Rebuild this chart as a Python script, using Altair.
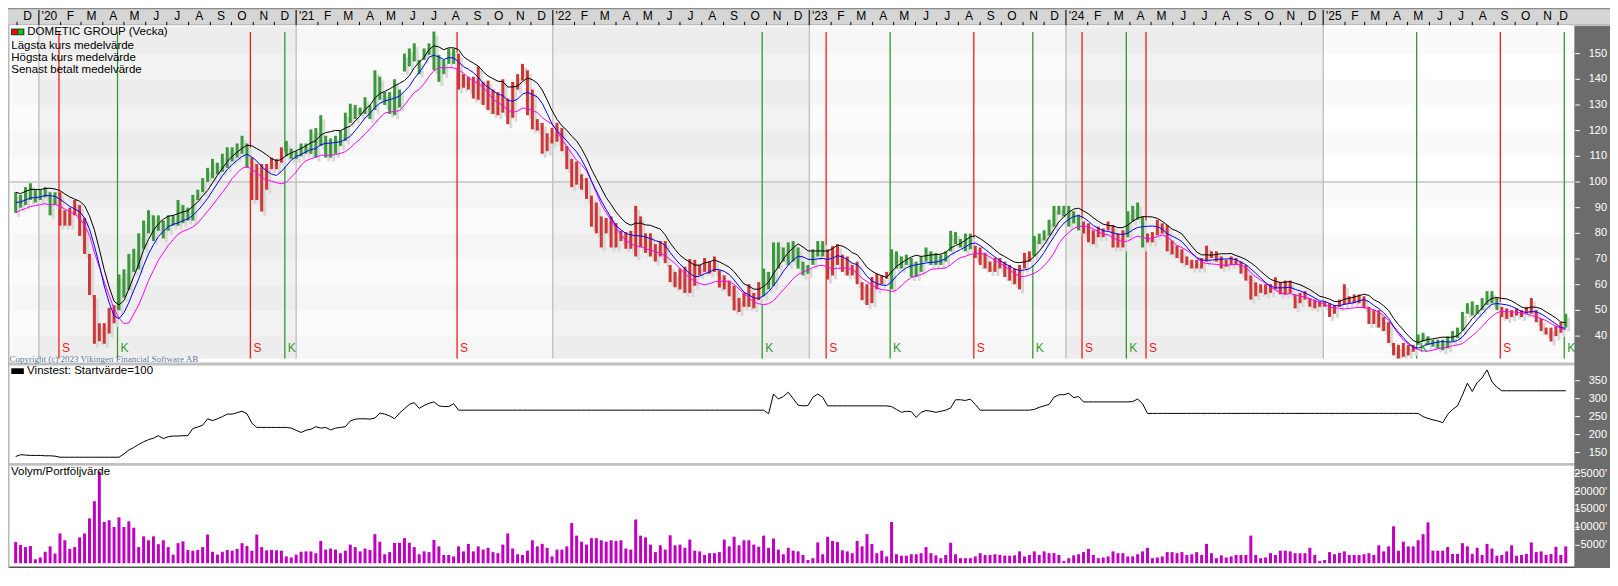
import altair as alt
import pandas as pd

# ---------------- data (weekly bars) ----------------
START = "2019-11-29"  # date of the first weekly bar

high_p1 = [96, 95, 98, 99.5, 97, 97, 98, 96, 96, 96, 89, 90, 93, 91, 86, 72, 56, 45, 45, 51,
           52, 64, 66, 72, 74, 80, 85, 89, 87, 87, 85, 87, 87, 93, 91, 90, 95, 97, 101.5, 105.5,
           109, 107.5, 111, 113.5, 113.5, 115, 118, 115, 109.5, 107, 107, 107, 109.5, 109, 113.5, 116, 113, 112, 115, 115,
           120.5, 121, 126, 118]
low_p1 = [88, 90, 91, 93, 92, 93, 94, 87, 91, 83, 83, 83, 87, 79, 72, 56, 37, 38, 37, 41,
          45, 50, 55, 58, 65, 66, 74, 80, 77, 81, 78, 81, 83, 83, 84, 85, 85, 93, 96, 100,
          101.5, 103, 104, 105.5, 108, 109.5, 111, 105.5, 93, 93, 88.5, 97, 105, 105, 107.5, 110, 109, 109, 110, 111,
          111, 109.5, 114, 109.5]
high_p2 = [117, 118, 120, 127, 130.5, 130, 129, 133, 130, 143.5, 141, 135, 135, 140, 136, 150, 152, 154, 147.5, 152,
           154, 158.6, 149.5, 147.5, 152, 152, 150, 142, 141, 141, 145, 139, 139.5, 136, 135, 140, 132.5, 139, 142, 146,
           143.5, 136, 124.5, 123, 119, 121, 123, 121, 114, 109, 108, 103, 101.5, 94.7, 92, 86.6, 86, 86.6, 84, 81,
           80.5, 81, 90.7]
low_p2 = [109.5, 111, 114, 116, 123, 124.5, 126, 126.5, 124.5, 128, 132, 130, 126.5, 126, 129, 143, 145, 147, 142, 147.5,
          149.5, 143.5, 139, 142, 146, 146, 136, 136.7, 136, 132.5, 132, 130, 128, 126.5, 126, 127, 122.5, 125, 136, 139.5,
          126, 120.5, 120, 111, 112, 115, 115.7, 112, 105, 98, 99, 97, 93.4, 82.6, 80, 74.5, 80, 74.5, 74.5, 77,
          74, 74, 71]
high_p3 = [86.6, 80, 80, 75.8, 77, 77, 67.7, 65, 66.3, 67, 70, 69.7, 67.7, 70.4, 69, 71, 65.6, 63.6, 61.6, 59.6,
           54.8, 56.8, 60.2, 56.8, 61, 66.3, 65, 76.5, 76.5, 74.5, 76.5, 77, 74.5, 69, 67.7, 73.8, 77, 77, 73.8, 75,
           75.8, 71.7, 71, 67.7, 69, 61, 60.2, 63, 64.3, 63.6, 65, 73.8, 73, 71, 71.7, 70.4, 69, 71, 74.5, 73,
           72.4, 71.7, 73]
low_p3 = [74.5, 72.4, 71, 69, 71, 68.4, 61, 59, 58.2, 56.8, 56.8, 59.6, 63.6, 65, 64.3, 65, 58.9, 58.2, 55.5, 50,
          49.4, 51.4, 51.4, 50.8, 54, 55.5, 58.2, 59.5, 66.3, 69, 67.7, 69, 66.3, 63.6, 64.3, 67.7, 71, 71, 62, 63.6,
          67.7, 65, 63.6, 63.6, 60.2, 54, 52.1, 52.8, 58.2, 60.2, 62.3, 58.2, 66.3, 66.3, 67.7, 63, 63, 65, 69, 67.7,
          67.7, 67.7, 69]
high_p4 = [81, 80.5, 77.8, 79.9, 79.9, 75.2, 74.5, 72.4, 69, 70.4, 70.4, 69, 67.7, 66.3, 67.7, 72.4, 73, 79, 79.9, 81.2,
           85.3, 90.7, 90.7, 90.7, 90.7, 88.6, 87.3, 84.6, 83.9, 81.2, 82.6, 81.9, 84.6, 83.2, 79.9, 81.2, 88.6, 90.7, 92, 86.6,
           79.9, 80.5, 85.3, 83.9, 83.2, 77.2, 75.2, 73.8, 71, 69.7, 69.7, 70.4, 75.2, 73, 73, 71, 69.7, 71, 70.4, 69,
           67.7, 63.6, 60.9]
low_p4 = [73, 75.8, 74.5, 73, 73.8, 70.4, 67.7, 66.3, 65, 65, 66.3, 63, 61.6, 60.2, 58.2, 66.3, 69, 71, 75.8, 77.2,
          79.2, 82.6, 87.3, 86.6, 82.6, 83.9, 81.2, 79.9, 76.5, 75.8, 78.5, 78.5, 81.2, 74.5, 74.5, 74.5, 78.5, 84.6, 85.3, 74.5,
          76.5, 76.5, 79.2, 79.9, 73, 71.8, 70.4, 68.4, 67.7, 66.3, 66.3, 66.3, 69, 70.4, 69, 66.3, 67, 67.7, 67.7, 64.3,
          61.6, 54.2, 55.5]
high_p5 = [60.2, 60.2, 60.2, 62.9, 60.9, 61.6, 61.6, 56.2, 56.8, 57.5, 54.8, 54.2, 53.5, 53.5, 52.8, 52.1, 54.2, 60.2, 55.5, 56.2,
           56.2, 55.5, 51.4, 50.1, 50.1, 47.4, 45.4, 37.3, 36.6, 37.3, 36.6, 36.6, 40.6, 41.3, 39.9, 38.6, 38.6, 38.6, 39.9, 42,
           43.3, 49.4, 52.8, 53.5, 52.1, 54.8, 57.5, 57.5, 54.8, 51.4, 50.8, 50.1, 50.8, 50.1, 51.4, 54.8, 50.1, 46.7, 43.3, 43.3,
           44, 45.4, 48.7]
low_p5 = [56.8, 56.2, 56.8, 58.2, 56.2, 56.2, 56.8, 50.8, 52.8, 54.2, 51.4, 50.8, 51.4, 51.4, 47.4, 48.7, 51.4, 52.1, 52.8, 52.8,
          52.8, 50.8, 44.7, 44.7, 43.3, 42, 37.3, 32.5, 31.2, 31.9, 32.5, 33.9, 36.6, 37.9, 36.6, 35.9, 35.2, 34.5, 35.2, 37.9,
          39.3, 42, 48.7, 48, 48.7, 50.1, 52.1, 52.8, 50.1, 47.4, 46.7, 47.4, 48, 47.4, 48.7, 48.7, 45.4, 42, 40.6, 37.9,
          40, 41.3, 43.3]

# weekly volume, thousands of shares
vol_p1 = [5.9, 5.1, 4.5, 4.8, 1.1, 1.6, 3.2, 4.7, 2.7, 8.3, 6.4, 4.0, 4.5, 7.2, 8.3, 12.5, 17.3, 25.6, 11.5, 12.0,
          10.1, 12.8, 10.1, 11.7, 9.9, 4.5, 7.5, 6.4, 7.5, 5.3, 6.4, 4.5, 2.4, 5.6, 6.1, 3.7, 3.5, 3.7, 4.5, 8.0,
          3.2, 2.4, 3.2, 3.7, 3.5, 4.0, 5.6, 4.8, 3.5, 8.0, 4.5, 3.6, 3.7, 3.6, 3.5, 1.9, 1.6, 2.4, 3.2, 3.3,
          3.3, 2.8, 6.2, 3.8]
vol_p2 = [4.1, 3.8, 2.8, 3.5, 5.2, 4.5, 3.3, 4.1, 3.7, 8.1, 6.0, 2.5, 3.1, 5.7, 5.7, 7.0, 5.7, 4.5, 2.5, 3.3,
          3.1, 6.5, 4.7, 2.3, 2.3, 1.9, 4.7, 3.3, 5.4, 3.3, 4.7, 3.8, 4.3, 3.1, 2.8, 5.2, 8.3, 4.1, 2.5, 2.3,
          3.5, 6.4, 4.7, 5.4, 4.3, 1.9, 3.8, 3.8, 4.7, 11.2, 7.7, 6.0, 5.2, 7.0, 7.0, 6.4, 6.0, 6.4, 6.2, 6.4,
          4.1, 3.8, 12.2]
vol_p3 = [7.7, 7.2, 5.2, 3.1, 5.0, 3.8, 7.8, 5.0, 5.2, 4.3, 6.6, 3.5, 3.3, 2.3, 2.8, 2.8, 3.1, 6.6, 4.7, 7.4,
          5.0, 6.4, 6.4, 5.2, 4.6, 7.7, 4.3, 6.9, 3.8, 2.5, 4.3, 3.5, 3.3, 2.3, 0.9, 1.4, 5.8, 2.5, 7.4, 6.2,
          5.9, 3.6, 3.3, 2.8, 6.2, 4.7, 8.1, 5.4, 2.8, 3.5, 1.9, 11.5, 2.5, 2.1, 2.1, 2.5, 2.5, 2.8, 4.5, 2.8,
          2.2, 1.4, 2.3]
vol_p4 = [5.7, 2.5, 1.4, 1.4, 1.4, 1.9, 2.8, 2.3, 2.3, 2.5, 2.3, 2.1, 2.1, 2.2, 3.3, 1.9, 2.3, 3.3, 2.3, 3.3,
          2.8, 2.8, 2.3, 0.6, 1.4, 2.2, 2.5, 3.1, 4.0, 2.3, 1.4, 1.6, 1.9, 3.3, 2.8, 2.8, 1.9, 1.9, 2.5, 3.3,
          4.3, 1.4, 1.6, 1.9, 3.1, 3.1, 2.8, 3.1, 2.3, 2.5, 3.1, 2.3, 5.4, 2.8, 1.4, 2.2, 1.6, 1.9, 2.3, 2.3,
          2.3, 7.7, 2.3]
vol_p5 = [1.4, 1.6, 2.8, 2.3, 3.5, 3.5, 3.3, 2.8, 2.8, 2.8, 4.3, 2.3, 0.6, 0.9, 3.1, 2.5, 2.9, 3.3, 2.3, 2.3,
          2.3, 2.5, 2.8, 2.3, 5.0, 3.3, 4.7, 10.3, 3.5, 6.0, 4.7, 4.7, 6.4, 8.1, 11.4, 3.5, 3.5, 3.5, 4.5, 2.6,
          2.6, 5.6, 4.7, 2.6, 4.3, 2.3, 5.4, 4.1, 2.1, 2.3, 3.3, 5.0, 2.1, 2.3, 2.6, 5.8, 3.1, 3.3, 2.3, 2.6,
          4.6, 2.3, 4.7]

# backtest equity curve ("Vinstest"), one value per week; flat while out of the market
equity = ([139, 144, 143, 142, 142, 142, 141, 141, 140] + [137] * 12 +
          [137, 146, 157, 164, 173, 180, 186, 190, 197, 189, 194, 196, 196, 197, 197, 217, 221, 226, 244, 239,
           244, 250, 257, 257, 261, 265, 258, 232] + [220] * 6 +
          [220, 218, 212, 206, 212, 215, 222, 218] +
          [220, 213, 218, 220, 222, 238, 243, 244, 244, 243, 246, 260, 257, 252, 244, 260, 272, 284, 289, 273,
           281, 287, 291, 280, 278, 278, 286] + [268] * 62 +
          [268, 258, 313, 299, 306, 318, 300, 282, 280, 281, 304, 313, 304, 280] + [280] * 12 +
          [278, 270, 262, 265, 264, 248, 262, 267, 265, 262, 265, 268, 274] +
          [297, 297, 295, 299, 284] + [268] * 11 +
          [270, 276, 280, 284, 304, 311, 311, 315, 303, 306] + [291] * 9 +
          [291, 292, 299, 286] + [259] * 55 +
          [259, 250, 245, 241, 238, 233, 256, 270, 280, 310, 343, 320, 345, 358, 380, 347, 332] + [322] * 14)

# buy (K) / sell (S) signals, in weeks after the first bar
signal_week = [8.8, 20.7, 47.7, 54.7, 89.7, 151.7, 164.7, 177.7, 194.7, 206.7, 216.7, 225.7, 229.7, 284.7, 301.7, 314.7]
signal_type = ["S", "K", "S", "K", "S", "K", "S", "K", "S", "K", "S", "K", "S", "K", "S", "K"]

month_letters = ["J", "F", "M", "A", "M", "J", "J", "A", "S", "O", "N", "D"]
years = [2020, 2021, 2022, 2023, 2024, 2025]
price_ticks = [40, 50, 60, 70, 80, 90, 100, 110, 120, 130, 140, 150]
equity_ticks = [150, 200, 250, 300, 350]
volume_ticks = [5, 10, 15, 20, 25]
volume_tick_labels = ["5000'", "10000'", "15000'", "20000'", "25000'"]

# ---------------- layout ----------------
PW, PH = 1602, 560
SX, SY = PW / 1618.0, PH / 586.0


def X(r):
    return round(r * SX, 2)


def Y(r):
    return round(r * SY, 2)


W_LEFT, W_RIGHT = -0.54, 315.73
GREEN, RED = "#3b993b", "#cf3636"
SIG_GREEN, SIG_RED = "#2f9a2f", "#ee1c1c"
FONT = "Liberation Sans"
LEG = 11.5

xs = alt.Scale(domain=[W_LEFT, W_RIGHT], range=[0, X(1582)], nice=False, zero=False)
ps = alt.Scale(domain=[30.44, 161.06], range=[Y(369), Y(18)], nice=False, zero=False)
es = alt.Scale(domain=[118.6, 392.6], range=[Y(477), Y(374)], nice=False, zero=False)
vs = alt.Scale(domain=[0, 27.2], range=[Y(581), Y(479)], nice=False, zero=False)

ONE = pd.DataFrame({"k": [0]})


def box(x1, x2, y1, y2, color, opacity=1.0):
    return alt.Chart(ONE).mark_rect(color=color, opacity=opacity).encode(
        x=alt.value(x1), x2=alt.value(x2), y=alt.value(y1), y2=alt.value(y2))


def label(text, x, y, size=LEG, color="#000000", align="left", font=FONT):
    return alt.Chart(pd.DataFrame({"t": [text]})).mark_text(
        align=align, baseline="middle", fontSize=size, color=color, font=font
    ).encode(x=alt.value(x), y=alt.value(y), text="t:N")


high = high_p1 + high_p2 + high_p3 + high_p4 + high_p5
low = low_p1 + low_p2 + low_p3 + low_p4 + low_p5
volume_k = vol_p1 + vol_p2 + vol_p3 + vol_p4 + vol_p5
n = min(len(high), len(low), len(volume_k), len(equity))

start = pd.Timestamp(START)


def wk(d):
    return (pd.Timestamp(d) - start).days / 7.0


def held(w):
    last = None
    for s, t in zip(signal_week, signal_type):
        if s < w:
            last = t
    return last != "S"


bars = pd.DataFrame({
    "week": list(range(n)),
    "high": high[:n],
    "low": low[:n],
    "vol": volume_k[:n],
    "eq": equity[:n],
    "zero": [0] * n,
})
bars["col"] = [GREEN if held(w) else RED for w in bars["week"]]

sig = pd.DataFrame({"week": signal_week, "typ": signal_type,
                    "col": [SIG_RED if t == "S" else SIG_GREEN for t in signal_type]})

jan = [wk(f"{y}-01-01") for y in years]
year_fill = ["#fbfbfb", "#f2f2f2", "#fbfbfb", "#f2f2f2", "#fbfbfb", "#f2f2f2", "#ffffff"]
years_df = pd.DataFrame({"ws": [W_LEFT] + jan, "we": jan + [W_RIGHT], "fill": year_fill})
jan_df = pd.DataFrame({"w": jan})

bands = pd.DataFrame({"lo": [30.6, 50, 70, 90, 110, 130, 150], "hi": [40, 60, 80, 100, 120, 140, 160]})

end_date = start + pd.Timedelta(days=W_RIGHT * 7)
months = pd.date_range("2019-12-01", "2025-12-01", freq="MS")
mrows = []
for m in months:
    nxt = m + pd.offsets.MonthBegin(1)
    e = min(nxt, end_date)
    mid = m + (e - m) / 2
    lab = "'" + m.strftime("%y") if m.month == 1 else month_letters[m.month - 1]
    mrows.append({"mid": wk(mid), "lab": lab, "w": wk(m), "jan": m.month == 1})
mdf = pd.DataFrame(mrows)
mticks = mdf[~mdf["jan"]]


def X_(f):
    return alt.X(f, scale=xs, axis=None)


layers = []
# header strip
layers.append(box(0, PW, 0, Y(18), "#d5d5d5"))
layers.append(box(0, PW, 0, 1.2, "#8c8c8c"))
layers.append(box(0, PW, Y(18) - 1, Y(18), "#b0b0b0"))
# price panel background
layers.append(alt.Chart(years_df).mark_rect().encode(
    x=X_("ws:Q"), x2="we:Q", y=alt.value(Y(18)), y2=alt.value(Y(367)),
    color=alt.Color("fill:N", scale=None)))
layers.append(alt.Chart(bands).mark_rect(color="#000000", opacity=0.02).encode(
    x=alt.value(0), x2=alt.value(X(1582)),
    y=alt.Y("lo:Q", scale=ps, axis=None), y2="hi:Q"))
layers.append(alt.Chart(jan_df).mark_rule(color="#c4c4c4", strokeWidth=1.5).encode(
    x=X_("w:Q"), y=alt.value(Y(18)), y2=alt.value(Y(367))))
layers.append(alt.Chart(pd.DataFrame({"p": [100]})).mark_rule(color="#c4c4c4", strokeWidth=1.5).encode(
    y=alt.Y("p:Q", scale=ps, axis=None), x=alt.value(0), x2=alt.value(X(1582))))
# signal lines
layers.append(alt.Chart(sig).mark_rule(strokeWidth=1.3).encode(
    x=X_("week:Q"), y=alt.value(Y(25)), y2=alt.value(Y(367)),
    color=alt.Color("col:N", scale=None)))
# bars: shadow then coloured range bars
layers.append(alt.Chart(bars).mark_bar(size=3, color="#d9d9d9", xOffset=3, yOffset=4, y2Offset=4).encode(
    x=X_("week:Q"), y=alt.Y("low:Q", scale=ps, axis=None), y2="high:Q"))
layers.append(alt.Chart(bars).mark_bar(size=3).encode(
    x=X_("week:Q"), y=alt.Y("low:Q", scale=ps, axis=None), y2="high:Q",
    color=alt.Color("col:N", scale=None)))
# moving averages
base = alt.Chart(bars).transform_calculate(mid="(datum.high + datum.low) / 2")
layers.append(base.transform_window(v="mean(low)", frame=[-7, 0], sort=[alt.SortField("week")]).mark_line(
    color="#ff00ff", strokeWidth=1).encode(x=X_("week:Q"), y=alt.Y("v:Q", scale=ps, axis=None)))
layers.append(base.transform_window(v="mean(mid)", frame=[-5, 0], sort=[alt.SortField("week")]).mark_line(
    color="#0000ff", strokeWidth=1).encode(x=X_("week:Q"), y=alt.Y("v:Q", scale=ps, axis=None)))
layers.append(base.transform_window(v="mean(high)", frame=[-5, 0], sort=[alt.SortField("week")]).mark_line(
    color="#000000", strokeWidth=1).encode(x=X_("week:Q"), y=alt.Y("v:Q", scale=ps, axis=None)))
# signal letters
layers.append(alt.Chart(sig).mark_text(align="left", dx=3, baseline="middle", fontSize=12, font=FONT).encode(
    x=X_("week:Q"), y=alt.value(Y(355.5)), text="typ:N", color=alt.Color("col:N", scale=None)))
# legend (price)
layers.append(box(X(3), X(16.5), Y(21.5), Y(28.5), "#3a3a3a"))
layers.append(box(X(4.2), X(9.3), Y(22.6), Y(27.4), "#ff0000"))
layers.append(box(X(10.5), X(15.3), Y(22.6), Y(27.4), "#00d000"))
layers.append(label("DOMETIC GROUP (Vecka)", X(19.5), Y(25.5)))
layers.append(label("Lägsta kurs medelvärde", X(3.3), Y(39.5)))
layers.append(label("Högsta kurs medelvärde", X(3.3), Y(52.5)))
layers.append(label("Senast betalt medelvärde", X(3.3), Y(65)))
# separators
layers.append(box(0, X(1582), Y(367), Y(371), "#ffffff"))
layers.append(box(0, PW, Y(371), Y(374), "#c0c0c0"))
layers.append(box(0, PW, Y(476), Y(479), "#c0c0c0"))
layers.append(box(0, PW, Y(584.5), PH, "#505050"))
layers.append(label("Copyright (c) 2023 Vikingen Financial Software AB", X(1.5), Y(367.8), size=9,
                    color="#5a74a6", font="Liberation Serif"))
# equity panel
layers.append(alt.Chart(bars).mark_line(color="#000000", strokeWidth=1).encode(
    x=X_("week:Q"), y=alt.Y("eq:Q", scale=es, axis=None)))
layers.append(box(X(3.3), X(16), Y(377), Y(383), "#000000"))
layers.append(label("Vinstest: Startvärde=100", X(19.3), Y(380.3)))
# volume panel
layers.append(alt.Chart(bars).mark_bar(size=3, color="#c000c0").encode(
    x=X_("week:Q"), y=alt.Y("vol:Q", scale=vs, axis=None), y2="zero:Q"))
layers.append(label("Volym/Portföljvärde", X(3), Y(486)))
# left border
layers.append(box(0, 1.5, Y(18), PH, "#b8b8b8"))
# right axis column
layers.append(box(X(1582), PW, Y(18.5), PH, "#6c6c6c"))

pt = pd.DataFrame({"v": price_ticks, "lab": [str(v) for v in price_ticks]})
et = pd.DataFrame({"v": equity_ticks, "lab": [str(v) for v in equity_ticks]})
vt = pd.DataFrame({"v": volume_ticks, "lab": volume_tick_labels})
for df, sc in [(pt, ps), (et, es), (vt, vs)]:
    layers.append(alt.Chart(df).mark_rule(color="#ffffff", strokeWidth=1).encode(
        y=alt.Y("v:Q", scale=sc, axis=None), x=alt.value(X(1583)), x2=alt.value(X(1587.5))))
    layers.append(alt.Chart(df).mark_text(align="right", baseline="middle", color="#ffffff",
                                          fontSize=11, font=FONT).encode(
        y=alt.Y("v:Q", scale=sc, axis=None), x=alt.value(X(1615)), text="lab:N"))

# header months
layers.append(alt.Chart(mticks).mark_rule(color="#000000", strokeWidth=1).encode(
    x=X_("w:Q"), y=alt.value(Y(14.5)), y2=alt.value(Y(18))))
layers.append(alt.Chart(jan_df).mark_rule(color="#3c3c3c", strokeWidth=1.5).encode(
    x=X_("w:Q"), y=alt.value(Y(2)), y2=alt.value(Y(18))))
layers.append(alt.Chart(mdf).mark_text(align="center", baseline="middle", fontSize=12, font=FONT,
                                       color="#000000").encode(
    x=X_("mid:Q"), y=alt.value(Y(8.5)), text="lab:N"))

chart = alt.layer(*layers).resolve_scale(y="independent").properties(
    width=PW, height=PH, padding=0, background="#ffffff",
    autosize=alt.AutoSizeParams(type="none")
).configure_view(stroke=None)

chart.save("out.html", embed_options={"renderer": "svg", "actions": False})
